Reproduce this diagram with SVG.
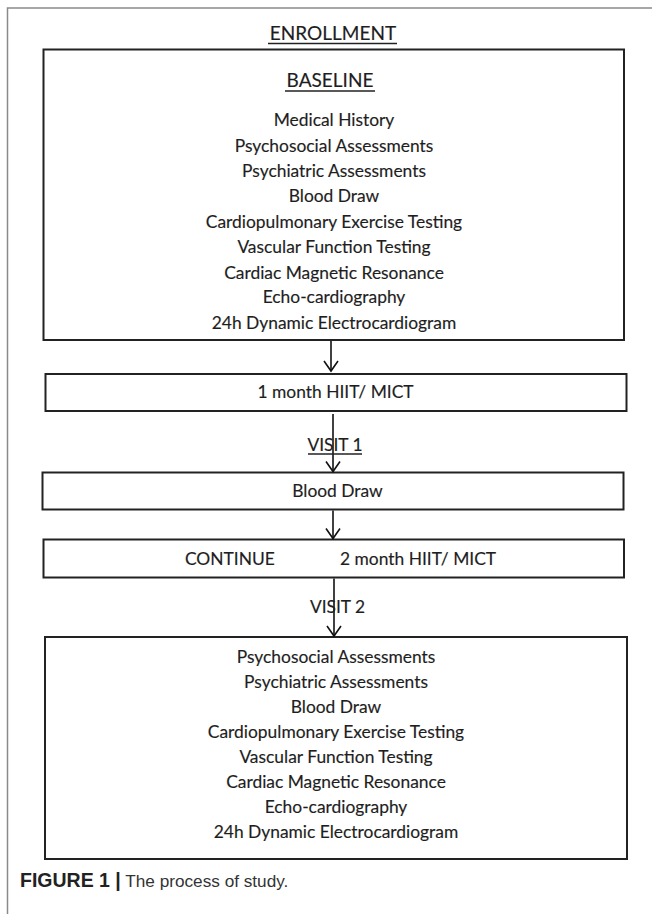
<svg xmlns="http://www.w3.org/2000/svg" width="652" height="914" viewBox="0 0 652 914">
<defs>
<style>
.t{font-family:Lato,"Open Sans",sans-serif;font-size:17.4px;fill:#1e1e1e;stroke:#1e1e1e;stroke-width:0.15;text-anchor:middle}
.h{font-size:19px}
.box{fill:#fff;stroke:#222;stroke-width:2}
.ul{stroke:#222;stroke-width:1.3}
.c{stroke:#111;stroke-width:1.6;fill:none}
.cap{font-family:"Liberation Sans",Arial,sans-serif;font-size:17.2px;fill:#333}
</style>
<marker id="ah" markerUnits="userSpaceOnUse" markerWidth="20" markerHeight="20" refX="12" refY="10" orient="auto" viewBox="0 0 20 20">
<polyline points="2,3 12,10 2,17" fill="none" stroke="#111" stroke-width="1.6"/>
</marker>
</defs>
<rect width="652" height="914" fill="#fff"/>
<path d="M7.5 914V8H652" fill="none" stroke="#8a8a8a" stroke-width="1.5"/>
<g id="enrollment">
<text class="t h" x="333" y="40">ENROLLMENT</text>
<line class="ul" x1="268" y1="43.5" x2="397" y2="43.5"/>
</g>
<g id="baseline">
<rect class="box" x="43.5" y="49.5" width="580.5" height="290.5"/>
<text class="t h" x="330" y="87">BASELINE</text>
<line class="ul" x1="285" y1="91" x2="375" y2="91"/>
<text class="t" x="334" y="126">Medical History</text>
<text class="t" x="334" y="151.5">Psychosocial Assessments</text>
<text class="t" x="334" y="177">Psychiatric Assessments</text>
<text class="t" x="334" y="202">Blood Draw</text>
<text class="t" x="334" y="227.5">Cardiopulmonary Exercise Testing</text>
<text class="t" x="334" y="253">Vascular Function Testing</text>
<text class="t" x="334" y="278.5">Cardiac Magnetic Resonance</text>
<text class="t" x="334" y="303">Echo-cardiography</text>
<text class="t" x="334" y="328.5">24h Dynamic Electrocardiogram</text>
</g>
<g id="month1">
<rect class="box" x="45.5" y="374" width="581" height="37"/>
<text class="t" x="335.5" y="398">1 month HIIT/ MICT</text>
</g>
<g id="visit1-blood">
<rect class="box" x="42.5" y="472.5" width="581" height="37"/>
<text class="t" x="337.5" y="497">Blood Draw</text>
</g>
<g id="continue">
<rect class="box" x="43.5" y="539.5" width="580.5" height="38"/>
<text class="t" x="185" y="565" style="text-anchor:start">CONTINUE</text>
<text class="t" x="340" y="565" style="text-anchor:start">2 month HIIT/ MICT</text>
</g>
<g id="visit2">
<rect class="box" x="45" y="637" width="582" height="222"/>
<text class="t" x="336" y="662.5">Psychosocial Assessments</text>
<text class="t" x="336" y="687.5">Psychiatric Assessments</text>
<text class="t" x="336" y="712.5">Blood Draw</text>
<text class="t" x="336" y="737.5">Cardiopulmonary Exercise Testing</text>
<text class="t" x="336" y="763">Vascular Function Testing</text>
<text class="t" x="336" y="788">Cardiac Magnetic Resonance</text>
<text class="t" x="336" y="813">Echo-cardiography</text>
<text class="t" x="336" y="838">24h Dynamic Electrocardiogram</text>
</g>
<g id="connectors">
<line class="c" x1="331" y1="341" x2="331" y2="371" marker-end="url(#ah)"/>
<line class="c" x1="333" y1="414" x2="333" y2="471.5" marker-end="url(#ah)"/>
<line class="c" x1="333" y1="510.5" x2="333" y2="538.5" marker-end="url(#ah)"/>
<line class="c" x1="334" y1="578.5" x2="334" y2="636" marker-end="url(#ah)"/>
</g>
<g id="labels">
<text class="t" x="335" y="450.5">VISIT 1</text>
<line class="ul" x1="308" y1="454" x2="362" y2="454"/>
<text class="t" x="337.5" y="612.5">VISIT 2</text>
</g>
<g id="caption">
<text class="cap" x="20" y="887"><tspan font-weight="bold" font-size="19.5" fill="#222">FIGURE 1 |</tspan> The process of study.</text>
</g>
</svg>
